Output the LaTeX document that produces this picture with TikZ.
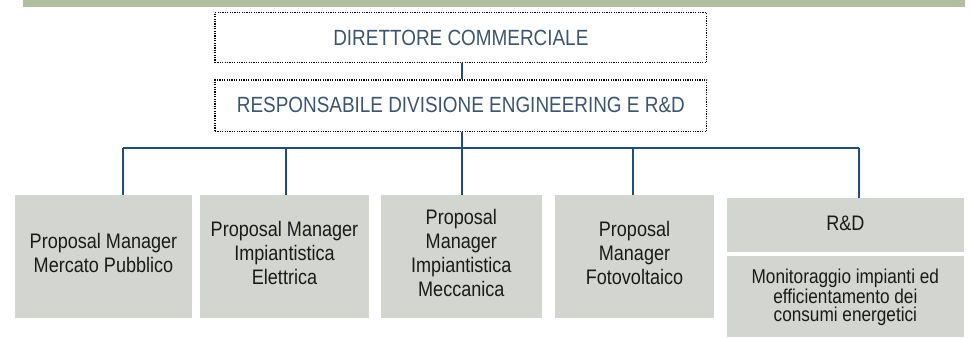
\documentclass[tikz,border=0pt]{standalone}
\usepackage{fontspec}
\setmainfont{Liberation Sans}[FakeStretch=0.86]
\definecolor{bargreen}{HTML}{AFBFA0}
\definecolor{boxgray}{HTML}{D3D6D0}
\definecolor{headtext}{HTML}{3D566E}
\definecolor{linkblue}{HTML}{1F4E79}
\definecolor{boxtext}{HTML}{1A1A1A}
\tikzset{
  headbox/.style={draw=black, line width=1.4pt, dash pattern=on 1.2pt off 1.2pt, fill=white, inner sep=0pt, minimum width=491.7pt},
  headtxt/.style={text=headtext, font=\fontsize{22}{24}\selectfont, inner sep=0pt},
  graybox/.style={fill=boxgray, inner sep=0pt},
  boxtxt/.style={text=boxtext, font=\fontsize{21}{24}\selectfont, align=center, inner sep=0pt},
  link/.style={draw=linkblue, line width=2pt}
}
\begin{document}
\begin{tikzpicture}[x=1pt,y=-1pt]
\useasboundingbox (0,0) rectangle (972,338);
% top bar
\fill[bargreen] (23,0) rectangle (965,7);
% header boxes
\node[headbox, minimum height=50pt] (top1) at (460.85,37.7) {};
\node[headtxt] (top1t) at (460.85,37.9) {DIRETTORE COMMERCIALE};
\node[headbox, minimum height=51.7pt] (top2) at (460.85,105.85) {};
\node[headtxt] (top2t) at (460.85,104.8) {RESPONSABILE DIVISIONE ENGINEERING E R\&D};
% lower boxes
\node[graybox, minimum width=177pt, minimum height=122.7pt] (b1) at (103.5,256.35) {};
\node[graybox, minimum width=169pt, minimum height=122.7pt] (b2) at (284.5,256.35) {};
\node[graybox, minimum width=160.7pt, minimum height=122.7pt] (b3) at (461.35,256.35) {};
\node[graybox, minimum width=159pt, minimum height=122.7pt] (b4) at (634.5,256.35) {};
\node[graybox, minimum width=237.3pt, minimum height=53.4pt] (rd) at (845.35,225) {};
\node[graybox, minimum width=237.3pt, minimum height=81.3pt] (mon) at (845.35,296.65) {};
% texts
\node[boxtxt] (b1t) at (103.5,252.5) {Proposal Manager\\Mercato Pubblico};
\node[boxtxt] (b2t) at (284.5,252.5) {Proposal Manager\\Impiantistica\\Elettrica};
\node[boxtxt] (b3t) at (461.35,253) {Proposal\\Manager\\Impiantistica\\Meccanica};
\node[boxtxt] (b4t) at (634.5,252.5) {Proposal\\Manager\\Fotovoltaico};
\node[boxtxt] (rdt) at (845.35,223.3) {R\&D};
\node[boxtxt, font=\fontsize{20}{18.5}\selectfont] (mont) at (845.35,297.3) {Monitoraggio impianti ed\\efficientamento dei\\consumi energetici};
% connectors
\coordinate (j0) at (462,148);
\coordinate (j1) at (122.7,148);
\coordinate (j2) at (286,148);
\coordinate (j3) at (462,148);
\coordinate (j4) at (633.3,148);
\coordinate (j5) at (859.3,148);
\draw[link] (top1.south -| j0) -- (top2.north -| j0);
\draw[link] (top2.south -| j0) -- (j0);
\draw[link] (j1) -- (j5);
\draw[link] (j1) -- (j1 |- b1.north);
\draw[link] (j2) -- (j2 |- b2.north);
\draw[link] (j3) -- (j3 |- b3.north);
\draw[link] (j4) -- (j4 |- b4.north);
\draw[link] (j5) -- (j5 |- rd.north);
\end{tikzpicture}
\end{document}
